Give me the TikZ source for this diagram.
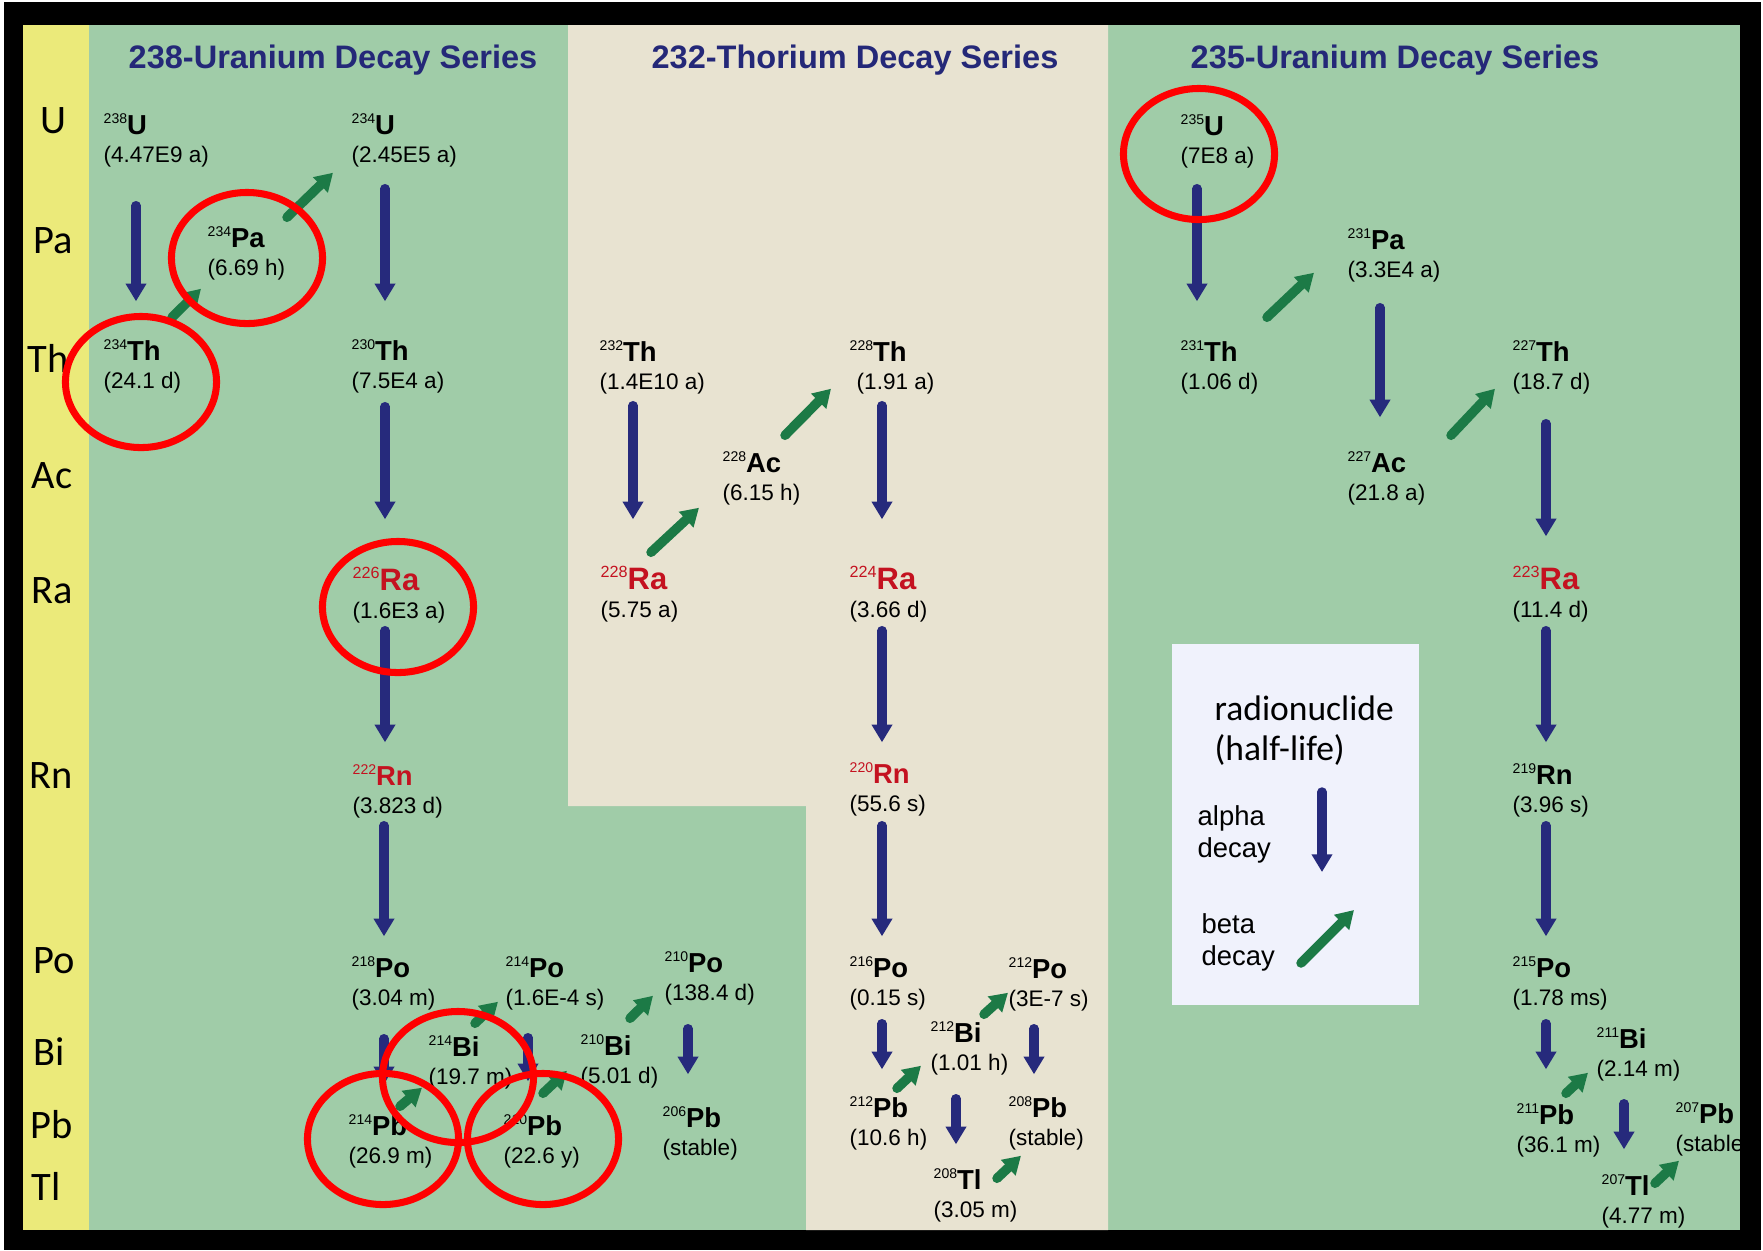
\documentclass[tikz,border=0pt]{standalone}
\usepackage{fontspec}
\setmainfont{Liberation Sans}
\newfontfamily\rowfont{Carlito}
\usetikzlibrary{arrows.meta}

\definecolor{panelgreen}{RGB}{160,204,168}
\definecolor{panelbeige}{RGB}{232,227,209}
\definecolor{labelyellow}{RGB}{235,234,122}
\definecolor{alphablue}{RGB}{38,42,124}
\definecolor{betagreen}{RGB}{28,122,70}
\definecolor{titleblue}{RGB}{36,40,120}
\definecolor{radred}{RGB}{196,18,32}
\definecolor{legendbg}{RGB}{240,242,252}

% two lines with a fixed distance between their baselines
\newcommand{\twoline}[3]{\vtop{\baselineskip=#1\lineskiplimit=-100pt\hbox{#2}\hbox{#3}}}
% nuclide: mass number, symbol, half-life
\newcommand{\nuc}[4][black]{\twoline{7.97pt}{\color{#1}\fontsize{4}{5}\selectfont\raisebox{3pt}{#2}\fontsize{7.8}{9}\selectfont\bfseries #3}{\fontsize{6.4}{8}\selectfont #4}}
\newcommand{\nucbig}[3]{\twoline{7.97pt}{\color{radred}\fontsize{4.6}{5}\selectfont\raisebox{3.2pt}{#1}\fontsize{8.8}{10}\selectfont\bfseries #2}{\fontsize{6.4}{8}\selectfont #3}}

\tikzset{
  nuclide/.style={anchor=base west, inner sep=0pt, text height=6.26pt, text depth=9.39pt},
  alphadecay/.style={draw=alphablue, line width=2.7pt, line cap=round, -{Triangle[width=5.6pt,length=5pt]}},
  betadecay/.style={draw=betagreen, line width=2.7pt, line cap=round, -{Triangle[width=5.8pt,length=5pt]}},
  ring/.style={draw=red, line width=2pt, x radius=0.755cm, y radius=0.655cm},
  series/.style={anchor=base, inner sep=0pt, text=titleblue, font=\fontsize{9.25}{11}\selectfont\bfseries},
  element/.style={anchor=base west, inner sep=0pt, font=\rowfont\fontsize{11.5}{13}\selectfont},
  legendtext/.style={anchor=base west, inner sep=0pt, font=\fontsize{7.8}{9}\selectfont},
}

\begin{document}
\begin{tikzpicture}[x=0.01cm, y=-0.01cm]
\useasboundingbox (0,0) rectangle (1763,1250);

% frame and panels
\fill[white] (0,0) rectangle (1763,1250);
\fill[black] (4,2) rectangle (1761,1250);
\fill[panelgreen] (23,25) rectangle (1740,1230);
\fill[panelbeige] (568,25) -- (1108,25) -- (1108,1230) -- (806,1230) -- (806,806) -- (568,806) -- cycle;
\fill[labelyellow] (23,25) rectangle (89,1230);

\begin{scope}
\clip (23,25) rectangle (1740,1230);

% element rows
\foreach \el/\elx/\ely in {U/40/133, Pa/33/253, Th/27/372, Ac/31/488, Ra/31/603,
    Rn/29/788, Po/33/973, Bi/33/1065, Pb/30/1138, Tl/31/1200}
  \node[element] (row\el) at (\elx,\ely) {\el};

% titles
\node[series] (title238) at (333,68) {238-Uranium Decay Series};
\node[series] (title232) at (855,68) {232-Thorium Decay Series};
\node[series] (title235) at (1395,68) {235-Uranium Decay Series};

% 238-U series
\node[nuclide] (u238) at (103,134) {\nuc{238}{U}{(4.47E9 a)}};
\node[nuclide] (u234) at (351,134) {\nuc{234}{U}{(2.45E5 a)}};
\node[nuclide] (pa234) at (207,247) {\nuc{234}{Pa}{(6.69 h)}};
\node[nuclide] (th234) at (103,360) {\nuc{234}{Th}{(24.1 d)}};
\node[nuclide] (th230) at (351,360) {\nuc{230}{Th}{(7.5E4 a)}};
\node[nuclide] (ra226) at (352,590) {\nucbig{226}{Ra}{(1.6E3 a)}};
\node[nuclide] (rn222) at (352,785) {\nuc[radred]{222}{Rn}{(3.823 d)}};
\node[nuclide] (po218) at (351,977) {\nuc{218}{Po}{(3.04 m)}};
\node[nuclide] (po214) at (505,977) {\nuc{214}{Po}{(1.6E-4 s)}};
\node[nuclide] (bi214) at (428,1056) {\nuc{214}{Bi}{(19.7 m)}};
\node[nuclide] (pb214) at (348,1135) {\nuc{214}{Pb}{(26.9 m)}};
\node[nuclide] (pb210) at (503,1135) {\nuc{210}{Pb}{(22.6 y)}};
\node[nuclide] (bi210) at (580,1055) {\nuc{210}{Bi}{(5.01 d)}};
\node[nuclide] (po210) at (664,972) {\nuc{210}{Po}{(138.4 d)}};
\node[nuclide] (pb206) at (662,1127) {\nuc{206}{Pb}{(stable)}};

% 232-Th series
\node[nuclide] (th232) at (599,361) {\nuc{232}{Th}{(1.4E10 a)}};
\node[nuclide] (th228) at (849,361) {\nuc{228}{Th}{\hspace{2pt}(1.91 a)}};
\node[nuclide] (ac228) at (722,472) {\nuc{228}{Ac}{(6.15 h)}};
\node[nuclide] (ra228) at (600,589) {\nucbig{228}{Ra}{(5.75 a)}};
\node[nuclide] (ra224) at (849,589) {\nucbig{224}{Ra}{(3.66 d)}};
\node[nuclide] (rn220) at (849,783) {\nuc[radred]{220}{Rn}{(55.6 s)}};
\node[nuclide] (po216) at (849,977) {\nuc{216}{Po}{(0.15 s)}};
\node[nuclide] (po212) at (1008,978) {\nuc{212}{Po}{(3E-7 s)}};
\node[nuclide] (bi212) at (930,1042) {\nuc{212}{Bi}{(1.01 h)}};
\node[nuclide] (pb212) at (849,1117) {\nuc{212}{Pb}{(10.6 h)}};
\node[nuclide] (pb208) at (1008,1117) {\nuc{208}{Pb}{(stable)}};
\node[nuclide] (tl208) at (933,1189) {\nuc{208}{Tl}{(3.05 m)}};

% 235-U series
\node[nuclide] (u235) at (1180,135) {\nuc{235}{U}{(7E8 a)}};
\node[nuclide] (pa231) at (1347,249) {\nuc{231}{Pa}{(3.3E4 a)}};
\node[nuclide] (th231) at (1180,361) {\nuc{231}{Th}{(1.06 d)}};
\node[nuclide] (th227) at (1512,361) {\nuc{227}{Th}{(18.7 d)}};
\node[nuclide] (ac227) at (1347,472) {\nuc{227}{Ac}{(21.8 a)}};
\node[nuclide] (ra223) at (1512,589) {\nucbig{223}{Ra}{(11.4 d)}};
\node[nuclide] (rn219) at (1512,784) {\nuc{219}{Rn}{(3.96 s)}};
\node[nuclide] (po215) at (1512,977) {\nuc{215}{Po}{(1.78 ms)}};
\node[nuclide] (bi211) at (1596,1048) {\nuc{211}{Bi}{(2.14 m)}};
\node[nuclide] (pb211) at (1516,1124) {\nuc{211}{Pb}{(36.1 m)}};
\node[nuclide] (pb207) at (1675,1123) {\nuc{207}{Pb}{(stable)}};
\node[nuclide] (tl207) at (1601,1195) {\nuc{207}{Tl}{(4.77 m)}};

% alpha decays
\draw[alphadecay] ([shift={(33,38)}]u238.south west) -- ([shift={(33,-36)}]th234.north west);
\draw[alphadecay] ([shift={(34,21)}]u234.south west) -- ([shift={(34,-36)}]th230.north west);
\draw[alphadecay] ([shift={(34,13)}]th230.south west) -- ([shift={(33,-48)}]ra226.north west);
\draw[alphadecay] ([shift={(33,7)}]ra226.south west) -- ([shift={(33,-20)}]rn222.north west);
\draw[alphadecay] ([shift={(32,7)}]rn222.south west) -- ([shift={(33,-18)}]po218.north west);
\draw[alphadecay] ([shift={(33,28)}]po218.south west) -- ([shift={(36,-28)}]pb214.north west);
\draw[alphadecay] ([shift={(23,27)}]po214.south west) -- ([shift={(25,-31)}]pb210.north west);
\draw[alphadecay] ([shift={(24,23)}]po210.south west) -- ([shift={(26,-30)}]pb206.north west);
\draw[alphadecay] ([shift={(34,11)}]th232.south west) -- ([shift={(33,-47)}]ra228.north west);
\draw[alphadecay] ([shift={(33,11)}]th228.south west) -- ([shift={(33,-47)}]ra224.north west);
\draw[alphadecay] ([shift={(33,8)}]ra224.south west) -- ([shift={(33,-18)}]rn220.north west);
\draw[alphadecay] ([shift={(33,9)}]rn220.south west) -- ([shift={(33,-18)}]po216.north west);
\draw[alphadecay] ([shift={(33,13)}]po216.south west) -- ([shift={(33,-25)}]pb212.north west);
\draw[alphadecay] ([shift={(26,17)}]po212.south west) -- ([shift={(26,-20)}]pb208.north west);
\draw[alphadecay] ([shift={(26,23)}]bi212.south west) -- ([shift={(23,-22)}]tl208.north west);
\draw[alphadecay] ([shift={(17,20)}]u235.south west) -- ([shift={(17,-37)}]th231.north west);
\draw[alphadecay] ([shift={(33,25)}]pa231.south west) -- ([shift={(33,-32)}]ac227.north west);
\draw[alphadecay] ([shift={(34,29)}]th227.south west) -- ([shift={(34,-30)}]ra223.north west);
\draw[alphadecay] ([shift={(34,8)}]ra223.south west) -- ([shift={(34,-19)}]rn219.north west);
\draw[alphadecay] ([shift={(34,8)}]rn219.south west) -- ([shift={(34,-18)}]po215.north west);
\draw[alphadecay] ([shift={(34,13)}]po215.south west) -- ([shift={(30,-32)}]pb211.north west);
\draw[alphadecay] ([shift={(28,22)}]bi211.south west) -- ([shift={(23,-23)}]tl207.north west);

% beta decays
\draw[betadecay] ([shift={(69,-20)}]th234.north west) -- ([shift={(-6,8)}]pa234.south west);
\draw[betadecay] ([shift={(80,-7)}]pa234.north west) -- ([shift={(-18,5)}]u234.south west);
\draw[betadecay] ([shift={(52,-6)}]pb214.north west) -- ([shift={(-6,-2)}]bi214.south west);
\draw[betadecay] ([shift={(47,-10)}]bi214.north west) -- ([shift={(-7,-9)}]po214.south west);
\draw[betadecay] ([shift={(40,-19)}]pb210.north west) -- ([shift={(-13,-18)}]bi210.south west);
\draw[betadecay] ([shift={(50,-14)}]bi210.north west) -- ([shift={(-11,-10)}]po210.south west);
\draw[betadecay] ([shift={(51,-14)}]ra228.north west) -- ([shift={(-23,2)}]ac228.south west);
\draw[betadecay] ([shift={(63,-14)}]ac228.north west) -- ([shift={(-18,-6)}]th228.south west);
\draw[betadecay] ([shift={(54,-5)}]bi212.north west) -- ([shift={(0,-19)}]po212.south west);
\draw[betadecay] ([shift={(48,-6)}]pb212.north west) -- ([shift={(-9,-10)}]bi212.south west);
\draw[betadecay] ([shift={(64,12)}]tl208.north west) -- ([shift={(13,5)}]pb208.south west);
\draw[betadecay] ([shift={(87,-21)}]th231.north west) -- ([shift={(-33,-10)}]pa231.south west);
\draw[betadecay] ([shift={(104,-14)}]ac227.north west) -- ([shift={(-17,-6)}]th227.south west);
\draw[betadecay] ([shift={(50,-8)}]pb211.north west) -- ([shift={(-8,-9)}]bi211.south west);
\draw[betadecay] ([shift={(54,11)}]tl207.north west) -- ([shift={(4,4)}]pb207.south west);

% legend
\node[fill=legendbg, inner sep=0pt, anchor=north west, minimum width=2.47cm, minimum height=3.61cm] (legend) at (1171,643) {};
\node[anchor=base west, inner sep=0pt, font=\rowfont\fontsize{10.1}{12}\selectfont] (legtitle) at (1214,720) {\twoline{11.6pt}{radionuclide}{(half-life)}};
\node[legendtext] (legalpha) at (1197,825) {\twoline{9.1pt}{alpha}{decay}};
\node[legendtext] (legbeta) at (1201,933) {\twoline{9.1pt}{beta}{decay}};
\coordinate (alphatail) at (1322,792);
\coordinate (alphahead) at (1322,872);
\coordinate (betatail) at (1301,963);
\coordinate (betahead) at (1354,910);
\draw[alphadecay] (alphatail) -- (alphahead);
\draw[betadecay] (betatail) -- (betahead);

% highlighted nuclides
\draw[ring] ([shift={(40,11)}]pa234.base west) circle;
\draw[ring] ([shift={(38,22)}]th234.base west) circle;
\draw[ring] ([shift={(46,17)}]ra226.base west) circle;
\draw[ring] ([shift={(30,21)}]bi214.base west) circle;
\draw[ring] ([shift={(35,4)}]pb214.base west) circle;
\draw[ring] ([shift={(40,4)}]pb210.base west) circle;
\draw[ring] ([shift={(19,19)}]u235.base west) circle;
\end{scope}
\end{tikzpicture}
\end{document}
